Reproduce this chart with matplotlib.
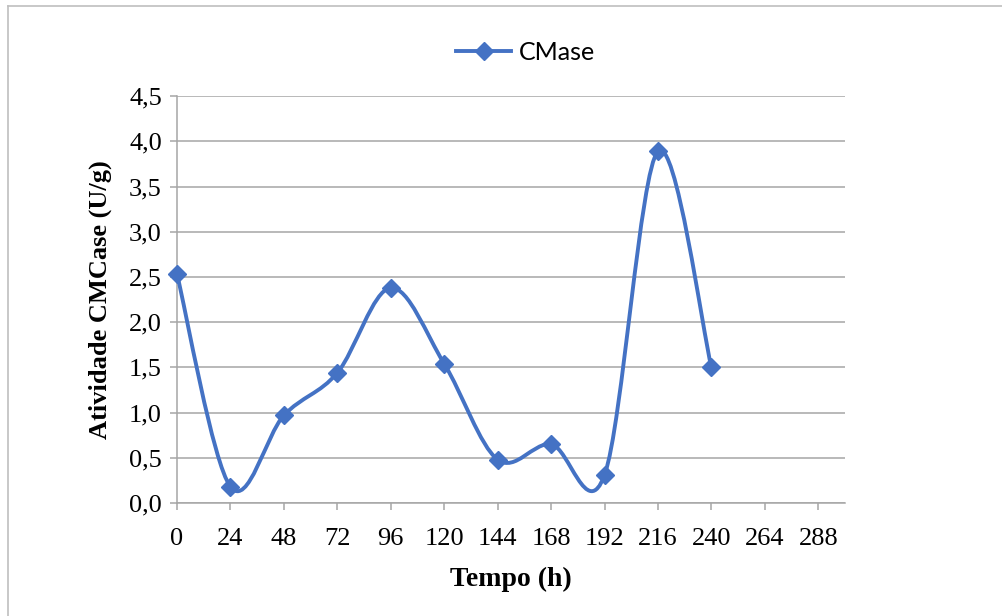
import numpy as np
import matplotlib
matplotlib.use("Agg")
import matplotlib.pyplot as plt
from matplotlib.path import Path
from matplotlib.patches import PathPatch
from matplotlib.lines import Line2D

tempo = [0, 24, 48, 72, 96, 120, 144, 168, 192, 216, 240]
cmase = [2.53, 0.18, 0.97, 1.44, 2.38, 1.54, 0.48, 0.65, 0.31, 3.89, 1.50]
x_ticks = list(range(0, 289, 24))
y_ticks = [0.0, 0.5, 1.0, 1.5, 2.0, 2.5, 3.0, 3.5, 4.0, 4.5]

BLUE = "#4472C4"
GRID = "#A6A6A6"


def smooth_path(ax, xs, ys):
    # Excel-like smoothed line: cubic Bezier through the points (built in pixel space)
    pts = ax.transData.transform(np.column_stack([xs, ys]))
    n = len(pts)
    verts = [pts[0]]
    codes = [Path.MOVETO]
    for i in range(n - 1):
        p0 = pts[i - 1] if i > 0 else pts[i]
        p1 = pts[i]
        p2 = pts[i + 1]
        p3 = pts[i + 2] if i + 2 < n else pts[i + 1]
        c1 = p1 + (p2 - p0) / 6.0
        c2 = p2 - (p3 - p1) / 6.0
        verts += [c1, c2, p2]
        codes += [Path.CURVE4] * 3
    return Path(verts, codes)


fig = plt.figure(figsize=(10.03, 6.16), dpi=100)
ax = fig.add_axes([0.1765, 0.1834, 0.666, 0.6606])

ax.set_xlim(0, 300)
ax.set_ylim(0, 4.5)
ax.set_xticks(x_ticks)
ax.set_yticks(y_ticks)
ax.set_yticklabels([f"{v:.1f}".replace(".", ",") for v in y_ticks])

for lab in ax.get_xticklabels() + ax.get_yticklabels():
    lab.set_fontfamily("Liberation Serif")
    lab.set_fontsize(19)

ax.grid(axis="y", color=GRID, linewidth=1.1)
ax.set_axisbelow(True)
for s in ["top", "right"]:
    ax.spines[s].set_visible(False)
for s in ["left", "bottom"]:
    ax.spines[s].set_color(GRID)
    ax.spines[s].set_linewidth(1.1)
ax.tick_params(axis="both", color=GRID, width=1.1, length=5, direction="out", pad=6)
ax.tick_params(axis="x", pad=13)

ax.set_xlabel("Tempo (h)", fontfamily="Liberation Serif", fontweight="bold", fontsize=20, labelpad=12)
ax.set_ylabel("Atividade CMCase (U/g)", fontfamily="Liberation Serif", fontweight="bold", fontsize=19, labelpad=12)

fig.canvas.draw()
path = smooth_path(ax, tempo, cmase)
patch = PathPatch(path, facecolor="none", edgecolor=BLUE, linewidth=2.8,
                  transform=None, capstyle="round", joinstyle="round", zorder=3)
ax.add_artist(patch)
patch.set_clip_on(False)
ax.plot(tempo, cmase, linestyle="none", marker="D", markersize=9,
        color=BLUE, zorder=4, clip_on=False)

handle = Line2D([], [], color=BLUE, linewidth=2.8, marker="D", markersize=9)
fig.legend([handle], ["CMase"], loc="center", bbox_to_anchor=(0.524, 0.915),
           frameon=False, prop={"family": "Lato", "size": 18},
           handlelength=2.2, handletextpad=0.3)

# outer frame of the chart (left and top edges visible)
fig.add_artist(Line2D([0.008, 0.008], [0, 0.990], color="#BFBFBF", linewidth=1.2))
fig.add_artist(Line2D([0.008, 1.0], [0.990, 0.990], color="#BFBFBF", linewidth=1.2))

fig.savefig("out.png", dpi=100)
